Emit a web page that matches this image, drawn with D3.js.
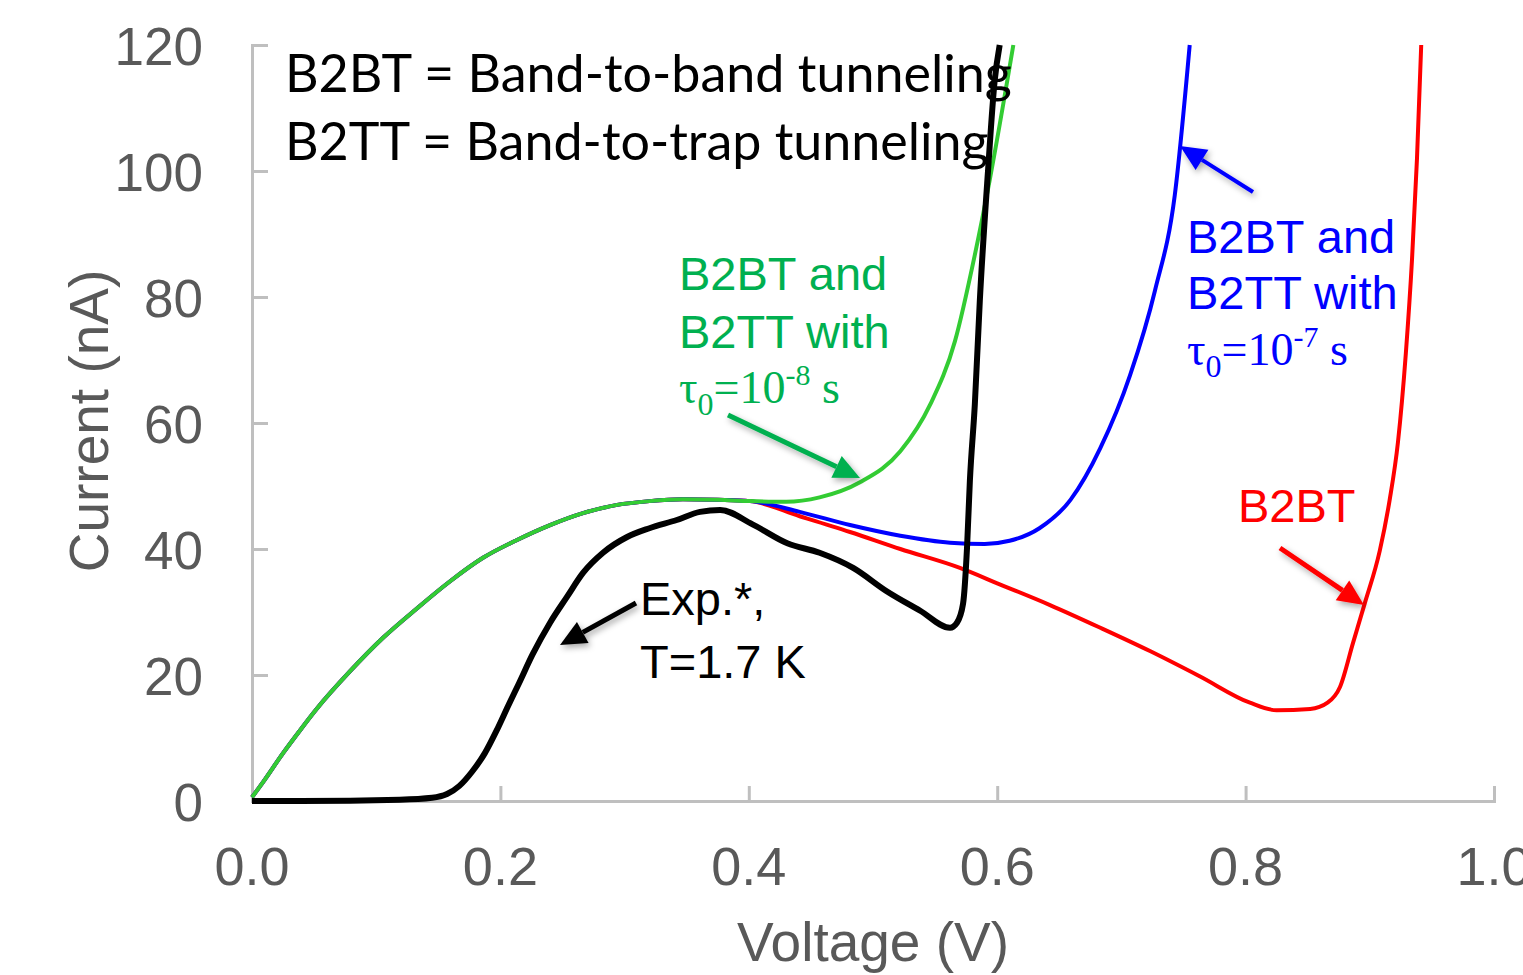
<!DOCTYPE html>
<html>
<head>
<meta charset="utf-8">
<script src="https://cdn.jsdelivr.net/npm/d3@7"></script>
<style>
  body { margin: 0; background: #fff; }
  svg { display: block; }
</style>
</head>
<body>
<div id="chart"></div>
<script>
// data: voltage (V) and current (nA)
const expV = [0, 0.039, 0.119, 0.145, 0.157, 0.167, 0.177, 0.1875, 0.197, 0.206, 0.215, 0.226, 0.240, 0.2536, 0.2665, 0.2826, 0.302, 0.320, 0.342, 0.3607, 0.377, 0.403, 0.431, 0.457, 0.484, 0.511, 0.538, 0.562, 0.5676, 0.5725, 0.5757, 0.578, 0.582, 0.586, 0.5926, 0.598, 0.602];
const expI = [0, 0, 0.2, 0.5, 1.1, 2.4, 4.6, 7.6, 11.2, 15.0, 18.7, 23.3, 28.3, 32.4, 36.2, 39.4, 41.9, 43.3, 44.6, 45.9, 46.2, 43.9, 40.9, 39.4, 37.0, 33.3, 30.2, 27.5, 28.3, 31.3, 40.2, 50.8, 63, 79.4, 100, 114.4, 120];

// shared rise, common to all three simulations
const simBaseV = [0, 0.0089, 0.025, 0.0386, 0.052, 0.079, 0.1055, 0.133, 0.159, 0.186, 0.213, 0.240, 0.2665, 0.294, 0.320, 0.347, 0.375, 0.401];
const simBaseI = [0.6, 3.0, 7.6, 11.2, 14.6, 20.6, 25.9, 30.6, 34.8, 38.6, 41.4, 43.8, 45.7, 47.0, 47.6, 47.9, 47.8, 47.6];

const greenV = [0.430, 0.457, 0.4895, 0.522, 0.546, 0.566, 0.582, 0.594, 0.613];
const greenI = [47.5, 48.2, 50.6, 55.5, 62.9, 73, 86.7, 98.6, 120];

const blueV = [0.441, 0.4815, 0.522, 0.562, 0.590, 0.610, 0.634, 0.659, 0.683, 0.707, 0.727, 0.743, 0.755];
const blueI = [45.9, 43.8, 42.1, 41, 40.8, 41.3, 43.3, 47.8, 56, 67.6, 81, 96.2, 120];

const redV = [0.441, 0.4815, 0.522, 0.570, 0.602, 0.6425, 0.683, 0.723, 0.763, 0.8035, 0.825, 0.852, 0.866, 0.876, 0.8865, 0.896, 0.908, 0.916, 0.9227, 0.929, 0.934, 0.938, 0.9414];
const redI = [45.2, 42.7, 40, 37, 34.4, 31.1, 27.5, 23.8, 19.8, 15.6, 14.4, 14.6, 15.6, 18.1, 25.1, 31.4, 39.7, 47.8, 57, 71, 86, 102, 120];

const xTicks = [0, 0.2, 0.4, 0.6, 0.8, 1.0];
const yTicks = [0, 20, 40, 60, 80, 100, 120];

var width = 1523, height = 975;
var svg = d3.select("#chart").append("svg")
  .attr("width", width)
  .attr("height", height);

var x = d3.scaleLinear().domain([0, 1]).range([252, 1494]);
var y = d3.scaleLinear().domain([0, 120]).range([801, 45]);

var defs = svg.append("defs");
var shadow = defs.append("filter").attr("id", "shadow")
  .attr("x", "-30%").attr("y", "-30%").attr("width", "160%").attr("height", "160%");
shadow.append("feDropShadow")
  .attr("dx", 2).attr("dy", 3).attr("stdDeviation", 3)
  .attr("flood-color", "#000").attr("flood-opacity", 0.35);

// axes (grey, ticks pointing inward)
var axisColor = "#bfbfbf", labelColor = "#595959";
var gx = svg.append("g").attr("transform", "translate(0," + y(0) + ")")
  .call(d3.axisTop(x).tickValues(xTicks).tickSize(15).tickFormat(""));
var gy = svg.append("g").attr("transform", "translate(" + x(0) + ",0)")
  .call(d3.axisRight(y).tickValues(yTicks).tickSize(16).tickFormat(""));
[gx, gy].forEach(g => {
  g.select(".domain").attr("stroke", axisColor).attr("stroke-width", 3);
  g.selectAll(".tick line").attr("stroke", axisColor).attr("stroke-width", 3);
});

svg.append("g").selectAll("text").data(xTicks).enter().append("text")
  .attr("x", d => x(d))
  .attr("y", 885)
  .attr("text-anchor", "middle")
  .style("font-family", "Liberation Sans, Arial, sans-serif")
  .style("font-size", "54px")
  .style("fill", labelColor)
  .text(d => d.toFixed(1));

svg.append("g").selectAll("text").data(yTicks).enter().append("text")
  .attr("x", 203)
  .attr("y", d => y(d) + 20)
  .attr("text-anchor", "end")
  .style("font-family", "Liberation Sans, Arial, sans-serif")
  .style("font-size", "53px")
  .style("fill", labelColor)
  .text(d => d);

svg.append("text")
  .attr("transform", "translate(108,421) rotate(-90)")
  .attr("text-anchor", "middle")
  .style("font-family", "Liberation Sans, Arial, sans-serif")
  .style("font-size", "55px")
  .style("fill", labelColor)
  .text("Current (nA)");

svg.append("text")
  .attr("x", 873)
  .attr("y", 961)
  .attr("text-anchor", "middle")
  .style("font-family", "Liberation Sans, Arial, sans-serif")
  .style("font-size", "55px")
  .style("fill", labelColor)
  .text("Voltage (V)");

// curves
var line = d3.line().x(d => x(d[0])).y(d => y(d[1])).curve(d3.curveMonotoneX);
function pts(vs, is) { return vs.map((v, i) => [v, is[i]]); }
var base = pts(simBaseV, simBaseI);

svg.append("path").datum(base.concat(pts(redV, redI)))
  .attr("d", line).attr("fill", "none").attr("stroke", "#ff0000").attr("stroke-width", 4);
svg.append("path").datum(base.concat(pts(blueV, blueI)))
  .attr("d", line).attr("fill", "none").attr("stroke", "#0000ff").attr("stroke-width", 4);
svg.append("path").datum(base.concat(pts(greenV, greenI)))
  .attr("d", line).attr("fill", "none").attr("stroke", "#33cc33").attr("stroke-width", 4);

// legend text (drawn under the black curve)
var legend = svg.append("g")
  .style("font-family", "Lato, Carlito, Calibri, sans-serif")
  .style("font-size", "52px")
  .style("fill", "#000");
legend.append("text").attr("x", 285).attr("y", 92).text("B2BT = Band-to-band tunneling");
legend.append("text").attr("x", 285).attr("y", 160).text("B2TT = Band-to-trap tunneling");

svg.append("path").datum(pts(expV, expI))
  .attr("d", line)
  .attr("fill", "none").attr("stroke", "#000").attr("stroke-width", 6)
  .attr("stroke-linejoin", "round");

// annotations
function arrow(x1, y1, x2, y2, color, w) {
  var ang = Math.atan2(y2 - y1, x2 - x1);
  var hl = 26, hw = 12;
  var bx = x2 - hl * Math.cos(ang), by = y2 - hl * Math.sin(ang);
  var g = svg.append("g").attr("filter", "url(#shadow)");
  g.append("line").attr("x1", x1).attr("y1", y1).attr("x2", bx).attr("y2", by)
    .attr("stroke", color).attr("stroke-width", w);
  var px = -Math.sin(ang) * hw, py = Math.cos(ang) * hw;
  g.append("path")
    .attr("d", "M" + x2 + "," + y2 + "L" + (bx + px) + "," + (by + py) + "L" + (bx - px) + "," + (by - py) + "Z")
    .attr("fill", color);
}

function tauLabel(xp, yp, color, exp) {
  var t = svg.append("text").attr("x", xp).attr("y", yp)
    .style("font-family", "Liberation Serif, Times New Roman, serif")
    .style("font-size", "46px").style("fill", color);
  t.append("tspan").text("τ");
  t.append("tspan").attr("dy", 12).style("font-size", "32px").text("0");
  t.append("tspan").attr("dy", -12).text("=10");
  t.append("tspan").attr("dy", -18).style("font-size", "30px").text(exp);
  t.append("tspan").attr("dy", 18).text(" s");
}

function block(lines, xp, yp, dy, color) {
  var g = svg.append("g")
    .style("font-family", "Liberation Sans, Arial, sans-serif")
    .style("font-size", "47px").style("fill", color);
  lines.forEach((s, i) => g.append("text").attr("x", xp).attr("y", yp + i * dy).text(s));
}

block(["B2BT and", "B2TT with"], 679, 290, 58, "#00b050");
tauLabel(679, 403, "#00b050", "-8");
arrow(728, 415, 860, 478, "#00b050", 5);

block(["B2BT and", "B2TT with"], 1187, 253, 56, "#0000ff");
tauLabel(1187, 365, "#0000ff", "-7");
arrow(1253, 192, 1180, 146, "#0000ff", 4);

block(["B2BT"], 1238, 522, 0, "#ff0000");
arrow(1280, 548, 1364, 605, "#ff0000", 5);

block(["Exp.*,", "T=1.7 K"], 640, 615, 63, "#000");
arrow(636, 603, 560, 645, "#000", 5);
</script>
</body>
</html>
